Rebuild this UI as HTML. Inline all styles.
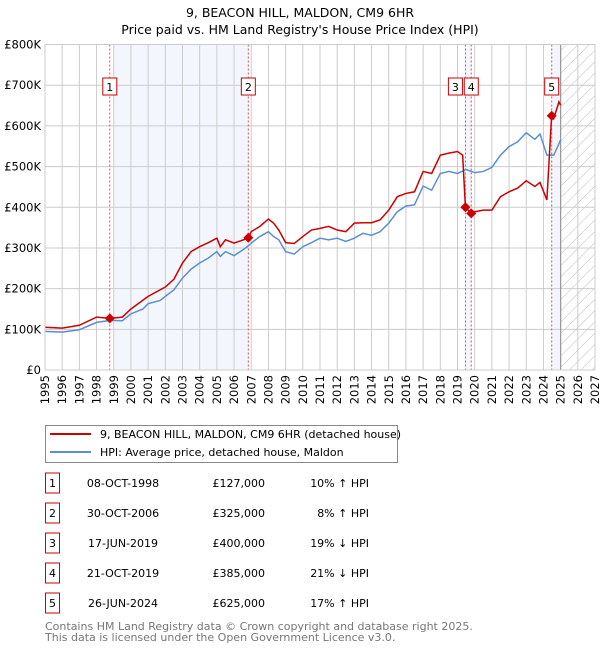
<!DOCTYPE html>
<html><head><meta charset="utf-8"><style>
body{margin:0;background:#fff;font-family:"Liberation Sans","DejaVu Sans",sans-serif;}
svg text{font-family:"DejaVu Sans","Liberation Sans",sans-serif;}
</style></head><body>
<svg id="c" width="600" height="650" xmlns="http://www.w3.org/2000/svg">
<defs><pattern id="hatch" width="8" height="8" patternUnits="userSpaceOnUse" patternTransform="rotate(45)"><line x1="0" y1="0" x2="0" y2="8" stroke="#bbb" stroke-width="1"/></pattern></defs>
<text x="300" y="17" text-anchor="middle" font-size="12.5">9, BEACON HILL, MALDON, CM9 6HR</text>
<text x="300" y="34" text-anchor="middle" font-size="12.5">Price paid vs. HM Land Registry's House Price Index (HPI)</text>
<g id="plot"></g>
<g id="legend">
<rect x="45.5" y="425.5" width="352" height="37" fill="#fff" stroke="#888"/>
<line x1="50" y1="434" x2="91" y2="434" stroke="#cc0000" stroke-width="2"/>
<text x="100" y="438" font-size="11">9, BEACON HILL, MALDON, CM9 6HR (detached house)</text>
<line x1="50" y1="452" x2="91" y2="452" stroke="#5b8fd0" stroke-width="2"/>
<text x="100" y="456" font-size="11">HPI: Average price, detached house, Maldon</text>
</g>
<g id="table"></g>
<text x="45" y="630" font-size="11" fill="#777">Contains HM Land Registry data © Crown copyright and database right 2025.</text>
<text x="45" y="641" font-size="11" fill="#777">This data is licensed under the Open Government Licence v3.0.</text>
</svg>
<script>
const hpiYears=[1995,1996,1997,1998,1998.8,1999.5,2000,2000.7,2001,2001.7,2002,2002.5,2003,2003.5,2004,2004.5,2005,2005.2,2005.5,2006,2006.5,2006.83,2007,2007.5,2008,2008.3,2008.6,2009,2009.5,2010,2010.5,2011,2011.5,2012,2012.5,2013,2013.5,2014,2014.5,2015,2015.5,2016,2016.5,2017,2017.5,2018,2018.5,2019,2019.5,2020,2020.5,2021,2021.5,2022,2022.5,2023,2023.5,2023.8,2024.2,2024.6,2025];
const hpiValues=[95,93,99,117,122,121,138,150,163,171,181,197,226,248,263,275,291,279,291,281,295,305,312,328,340,328,320,291,285,303,313,324,320,324,316,324,336,331,340,361,389,403,406,452,442,483,488,483,493,485,488,498,528,549,561,583,567,580,528,528,565];
const propYears=[1995,1996,1997,1998,1998.77,1999.5,2000,2001,2002,2002.5,2003,2003.5,2004,2004.5,2005,2005.2,2005.5,2006,2006.83,2007,2007.5,2008,2008.3,2008.6,2009,2009.5,2010,2010.5,2011,2011.5,2012,2012.5,2013,2013.5,2014,2014.5,2015,2015.5,2016,2016.5,2017,2017.5,2018,2018.5,2019,2019.3,2019.46,2019.8,2020,2020.5,2021,2021.5,2022,2022.5,2023,2023.5,2023.8,2024.2,2024.48,2024.6,2024.9,2025];
const propValues=[105,103,110,130,127,130,150,181,204,223,263,291,303,313,324,303,320,312,324,340,353,371,361,344,313,311,328,344,348,353,344,340,361,362,362,369,393,426,434,438,488,483,528,533,537,528,400,385,389,393,393,426,438,447,465,451,461,418,627,618,659,651];
const saleLabels=["1","2","3","4","5"];
const saleYears=[1998.77,2006.83,2019.46,2019.8,2024.48];
const saleValues=[127,325,400,385,625];
const saleDates=["08-OCT-1998","30-OCT-2006","17-JUN-2019","21-OCT-2019","26-JUN-2024"];
const salePrices=["£127,000","£325,000","£400,000","£385,000","£625,000"];
const saleDiffs=["10% ↑ HPI","8% ↑ HPI","19% ↓ HPI","21% ↓ HPI","17% ↑ HPI"];
const yTicks=[0,100,200,300,400,500,600,700,800];
const yTickLabels=["£0","£100K","£200K","£300K","£400K","£500K","£600K","£700K","£800K"];
const xStart=1995,xEnd=2027;

const X0=45,X1=595,Y0=370,Y1=44.5;
const sx=y=>X0+(y-xStart)/(xEnd-xStart)*(X1-X0);
const sy=v=>Y0-v/800*(Y0-Y1);
const NS="http://www.w3.org/2000/svg";
const plot=document.getElementById('plot');
function mk(tag,attrs,parent){const e=document.createElementNS(NS,tag);for(const k in attrs)e.setAttribute(k,attrs[k]);(parent||plot).appendChild(e);return e;}
const bands=[[1999.0,saleYears[1]],[saleYears[2],saleYears[3]],[saleYears[4],2025]];
bands.forEach(b=>{const r=mk('rect',{x:sx(b[0]),y:Y1,width:sx(b[1])-sx(b[0]),height:Y0-Y1,fill:'#eef3fc',opacity:0.7});

});
const h=mk('rect',{x:sx(2025),y:Y1,width:X1-sx(2025),height:Y0-Y1,fill:'url(#hatch)'});


for(let y=xStart;y<=xEnd;y++){const l=mk('line',{x1:sx(y),x2:sx(y),y1:Y1,y2:Y0,stroke:'#ccc','stroke-width':1});


const t=mk('text',{x:0,y:0,'font-size':11.5,'text-anchor':'end',transform:`translate(${sx(y)+4},${Y0+5}) rotate(-90)`});t.textContent=y;

}
yTicks.forEach((v,i)=>{const l=mk('line',{x1:X0,x2:X1,y1:sy(v),y2:sy(v),stroke:'#ccc','stroke-width':1});


const t=mk('text',{x:X0-4,y:sy(v)+4,'font-size':11.5,'text-anchor':'end'});t.textContent=yTickLabels[i];

});
const nl=mk('line',{x1:sx(2025),x2:sx(2025),y1:Y1,y2:Y0,stroke:'#999','stroke-width':1.2});


saleYears.forEach(y=>{const l=mk('line',{x1:sx(y),x2:sx(y),y1:Y1,y2:Y0,stroke:'#e05050','stroke-width':1,'stroke-dasharray':'2,2'});

});
const hp=mk('polyline',{points:hpiYears.map((y,i)=>sx(y)+','+sy(hpiValues[i])).join(' '),fill:'none',stroke:'#5b8fd0','stroke-width':1.5});


const pp=mk('polyline',{points:propYears.map((y,i)=>sx(y)+','+sy(propValues[i])).join(' '),fill:'none',stroke:'#cc0000','stroke-width':1.5});


saleYears.forEach((y,i)=>{const cx=sx(y),cy=sy(saleValues[i]);
const d=mk('polygon',{points:`${cx},${cy-5} ${cx+5},${cy} ${cx},${cy+5} ${cx-5},${cy}`,fill:'#cc0000'});


const bx=cx-(i===2?17:7);
const r=mk('rect',{x:bx,y:78,width:14,height:17,fill:'#fff',stroke:'#cc0000','stroke-width':1});


const t=mk('text',{x:bx+7,y:91,'font-size':11,'text-anchor':'middle'});t.textContent=saleLabels[i];

});
mk('rect',{x:X0,y:Y1,width:X1-X0,height:Y0-Y1,fill:'none',stroke:'#ccc'});
const tb=document.getElementById('table');
saleLabels.forEach((s,i)=>{const y=483+i*30;
const r=mk('rect',{x:45.5,y:y-10,width:14,height:20,fill:'#fff',stroke:'#cc0000'},tb);


const cells=[[52.5,s,'middle'],[123,saleDates[i],'middle'],[265,salePrices[i],'end'],[369,saleDiffs[i],'end']];
const names=['table-index','sale-date','sale-price','hpi-difference'];
cells.forEach((c,j)=>{const t=mk('text',{x:c[0],y:y+4,'font-size':11,'text-anchor':c[2]},tb);t.textContent=c[1];

});});
</script>
</body></html>
